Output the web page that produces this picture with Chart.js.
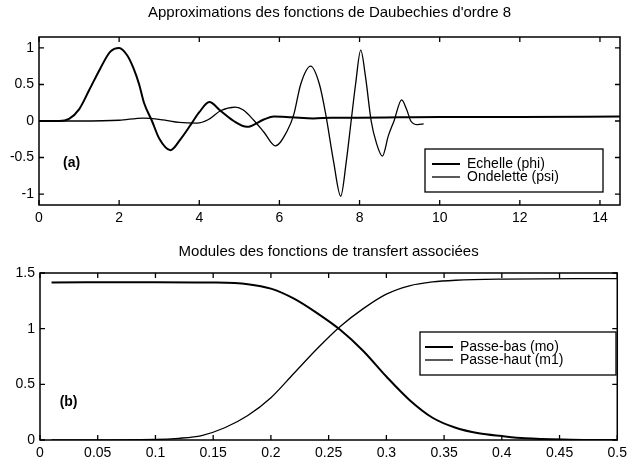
<!DOCTYPE html>
<html>
<head>
<meta charset="utf-8">
<script src="https://cdn.jsdelivr.net/npm/chart.js@4/dist/chart.umd.min.js"></script>
<style>
  body { margin: 0; background: #fff; }
  #wrap { position: relative; width: 632px; height: 459px; }
  canvas { position: absolute; left: 0; }
  #top { top: 0; }
  #bottom { top: 232px; }
</style>
</head>
<body>
<div id="wrap">
  <canvas id="top" width="632" height="232"></canvas>
  <canvas id="bottom" width="632" height="227"></canvas>
</div>
<script>
// (a) Daubechies 8 : scaling function (phi) and wavelet (psi)
const xPhi = [0, 0.5, 0.75, 1.0, 1.25, 1.53, 1.78, 2.0, 2.2, 2.36, 2.5, 2.62, 2.82, 3.0, 3.28, 3.53, 3.8, 4.0, 4.25, 4.53, 4.86, 5.19, 5.61, 5.86, 6.3, 6.85, 7.3, 8.0, 9.0, 10.0, 12.0, 14.5];
const yPhi = [0, 0.0, 0.03, 0.16, 0.42, 0.72, 0.95, 1.0, 0.9, 0.72, 0.5, 0.25, 0.0, -0.24, -0.40, -0.25, -0.04, 0.12, 0.26, 0.14, 0.0, -0.08, 0.02, 0.06, 0.05, 0.035, 0.045, 0.045, 0.05, 0.055, 0.055, 0.06];

const xPsi = [0, 1.0, 2.0, 2.6, 3.1, 3.5, 3.94, 4.23, 4.53, 4.9, 5.1, 5.36, 5.61, 5.9, 6.19, 6.36, 6.53, 6.78, 7.0, 7.15, 7.35, 7.53, 7.67, 7.79, 7.9, 8.03, 8.15, 8.29, 8.42, 8.57, 8.72, 8.86, 9.05, 9.18, 9.28, 9.45, 9.6];
const yPsi = [0, 0, 0.01, 0.04, 0.015, -0.02, -0.03, 0.02, 0.14, 0.19, 0.15, 0.01, -0.15, -0.34, -0.14, 0.09, 0.5, 0.75, 0.5, 0.11, -0.55, -1.03, -0.55, 0.0, 0.5, 0.97, 0.6, 0.0, -0.3, -0.48, -0.2, 0.0, 0.29, 0.15, 0.0, -0.05, -0.04];

const xTicksA = [0, 2, 4, 6, 8, 10, 12, 14];
const yTicksA = [-1, -0.5, 0, 0.5, 1];

// (b) transfer function moduli
const xM0 = [0.01, 0.1, 0.15, 0.18, 0.2, 0.22, 0.24, 0.26, 0.28, 0.3, 0.32, 0.34, 0.36, 0.38, 0.4, 0.42, 0.46, 0.5];
const yM0 = [1.415, 1.418, 1.415, 1.40, 1.36, 1.27, 1.14, 0.99, 0.80, 0.57, 0.36, 0.20, 0.11, 0.06, 0.035, 0.015, 0.003, 0];

const xM1 = [0.01, 0.1, 0.12, 0.14, 0.16, 0.18, 0.2, 0.22, 0.24, 0.26, 0.28, 0.3, 0.32, 0.34, 0.36, 0.4, 0.5];
const yM1 = [0, 0.005, 0.015, 0.04, 0.11, 0.22, 0.38, 0.60, 0.82, 1.02, 1.18, 1.31, 1.385, 1.42, 1.435, 1.445, 1.45];

const xTicksB = [0, 0.05, 0.1, 0.15, 0.2, 0.25, 0.3, 0.35, 0.4, 0.45, 0.5];
const yTicksB = [0, 0.5, 1, 1.5];

const FONT = '"Liberation Sans", Arial, sans-serif';

function pts(xs, ys) {
    return xs.map((x, i) => ({ x: x, y: ys[i] }));
}

// matlab-like frame: box, inward ticks on all four sides, title, tag, legend box
const matlabFrame = {
    id: 'matlabFrame',
    afterDraw(chart, args, opts) {
        const ctx = chart.ctx;
        const a = chart.chartArea;
        const sx = chart.scales.x, sy = chart.scales.y;
        ctx.save();
        ctx.strokeStyle = '#000';
        ctx.lineWidth = 1.3;
        ctx.beginPath();
        sx.ticks.forEach(t => {
            const p = sx.getPixelForValue(t.value);
            ctx.moveTo(p, a.bottom); ctx.lineTo(p, a.bottom - 5);
            ctx.moveTo(p, a.top); ctx.lineTo(p, a.top + 5);
        });
        sy.ticks.forEach(t => {
            const p = sy.getPixelForValue(t.value);
            ctx.moveTo(a.left, p); ctx.lineTo(a.left + 5, p);
            ctx.moveTo(a.right, p); ctx.lineTo(a.right - 5, p);
        });
        ctx.stroke();
        ctx.lineWidth = 1.5;
        ctx.strokeRect(a.left, a.top, a.right - a.left, a.bottom - a.top);

        ctx.fillStyle = '#000';
        ctx.font = '15px ' + FONT;
        ctx.textAlign = 'center';
        ctx.textBaseline = 'middle';
        ctx.fillText(opts.title, (a.left + a.right) / 2, opts.titleY);

        ctx.font = 'bold 14px ' + FONT;
        ctx.textAlign = 'left';
        ctx.fillText(opts.tag, sx.getPixelForValue(opts.tagAt[0]), sy.getPixelForValue(opts.tagAt[1]));

        // legend
        const L = opts.legend;
        ctx.fillStyle = '#fff';
        ctx.fillRect(L.x, L.y, L.w, L.h);
        ctx.lineWidth = 1.3;
        ctx.strokeRect(L.x, L.y, L.w, L.h);
        ctx.font = '14px ' + FONT;
        ctx.fillStyle = '#000';
        chart.data.datasets.forEach((ds, i) => {
            const yy = L.rows[i];
            ctx.lineWidth = ds.borderWidth;
            ctx.beginPath();
            ctx.moveTo(L.lineX, yy);
            ctx.lineTo(L.lineX + 28, yy);
            ctx.stroke();
            ctx.fillText(ds.label, L.textX, yy);
        });
        ctx.restore();
    }
};

function makeChart(id, sets, xr, yr, xTicks, yTicks, padTop, axisH, axisW, frame) {
    return new Chart(document.getElementById(id), {
        type: 'line',
        data: {
            datasets: sets.map(s => ({
                label: s.label,
                data: s.data,
                borderColor: '#000',
                borderWidth: s.width,
                pointRadius: 0,
                fill: false,
                cubicInterpolationMode: 'monotone'
            }))
        },
        options: {
            responsive: false,
            animation: false,
            devicePixelRatio: 1,
            layout: { padding: { top: padTop, right: 12, left: 0, bottom: 0 } },
            plugins: {
                legend: { display: false },
                tooltip: { enabled: false },
                matlabFrame: frame
            },
            scales: {
                x: {
                    type: 'linear',
                    min: xr[0], max: xr[1],
                    grid: { display: false, drawTicks: false },
                    border: { display: false },
                    afterBuildTicks: s => { s.ticks = xTicks.map(v => ({ value: v })); },
                    afterFit: s => { s.height = axisH; },
                    ticks: {
                        color: '#000', padding: 5, maxRotation: 0, autoSkip: false,
                        font: { family: FONT, size: 14 },
                        callback: v => String(v)
                    }
                },
                y: {
                    type: 'linear',
                    min: yr[0], max: yr[1],
                    grid: { display: false, drawTicks: false },
                    border: { display: false },
                    afterBuildTicks: s => { s.ticks = yTicks.map(v => ({ value: v })); },
                    afterFit: s => { s.width = axisW; },
                    ticks: {
                        color: '#000', padding: 5,
                        font: { family: FONT, size: 14 },
                        callback: v => String(v)
                    }
                }
            }
        },
        plugins: [matlabFrame]
    });
}

makeChart('top',
    [
        { label: 'Echelle (phi)', data: pts(xPhi, yPhi), width: 2 },
        { label: 'Ondelette (psi)', data: pts(xPsi, yPsi), width: 1.3 }
    ],
    [0, 14.5], [-1.15, 1.15], xTicksA, yTicksA, 37, 27, 39,
    {
        title: "Approximations des fonctions de Daubechies d'ordre 8",
        titleY: 13,
        tag: '(a)', tagAt: [0.6, -0.58],
        legend: { x: 425, y: 149, w: 178, h: 43, lineX: 432, textX: 467, rows: [164, 177] }
    });

makeChart('bottom',
    [
        { label: 'Passe-bas (mo)', data: pts(xM0, yM0), width: 2 },
        { label: 'Passe-haut (m1)', data: pts(xM1, yM1), width: 1.3 }
    ],
    [0, 0.5], [0, 1.5], xTicksB, yTicksB, 41, 19, 40,
    {
        title: 'Modules des fonctions de transfert associées',
        titleY: 20,
        tag: '(b)', tagAt: [0.017, 0.34],
        legend: { x: 420, y: 100, w: 196, h: 43, lineX: 425, textX: 460, rows: [115, 128] }
    });
</script>
</body>
</html>
